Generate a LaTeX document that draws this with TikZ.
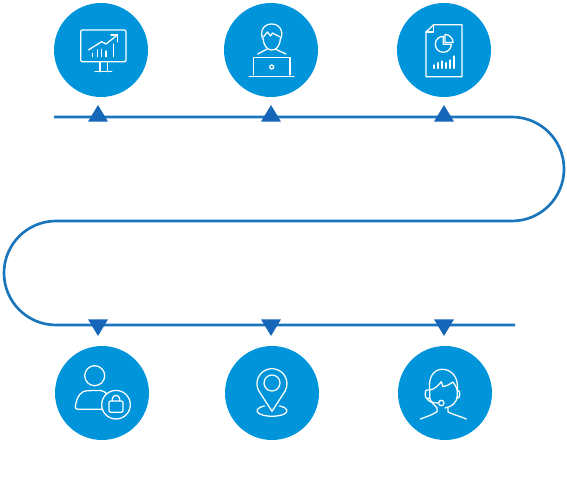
\documentclass[tikz,border=0pt]{standalone}
\usepackage{xcolor}
\usetikzlibrary{shapes.geometric, calc}
\definecolor{discblue}{RGB}{0,149,218}
\definecolor{trackblue}{RGB}{27,117,187}
\definecolor{tipblue}{RGB}{21,101,184}
\tikzset{
  disc/.style={circle, fill=discblue, minimum size=70.5pt, inner sep=0pt},
  tipup/.style={isosceles triangle, isosceles triangle stretches=true,
    shape border rotate=90, fill=tipblue, minimum width=15pt,
    minimum height=12.5pt, inner sep=0pt, anchor=south},
  tipdown/.style={isosceles triangle, isosceles triangle stretches=true,
    shape border rotate=-90, fill=tipblue, minimum width=15pt,
    minimum height=12.5pt, inner sep=0pt, anchor=north},
  track/.style={color=trackblue, line width=2pt},
  glyph/.style={draw=white, line width=0.95pt, line join=round, line cap=round}
}

\begin{document}
\begin{tikzpicture}[x=0.75pt, y=0.75pt]
  \useasboundingbox (0,0) rectangle (567,496);

  \coordinate (trackstart) at (54,379);
  \coordinate (trackend) at (515,171);

  % the winding line
  \draw[track] (trackstart) -- (512,379)
    arc[start angle=90, end angle=-90, radius=52]
    -- (56,275)
    arc[start angle=90, end angle=270, radius=52]
    -- (trackend);

  \node[tipup] (tipa) at (98,374) {};
  \node[tipup] (tipb) at (271,374) {};
  \node[tipup] (tipc) at (444,374) {};
  \node[tipdown] (tipd) at (98,177) {};
  \node[tipdown] (tipe) at (271,177) {};
  \node[tipdown] (tipf) at (444,177) {};

  \node[disc] (chart) at (101,446) {};
  \node[disc] (laptop) at (271,446) {};
  \node[disc] (report) at (444,446) {};
  \node[disc] (account) at (102,103) {};
  \node[disc] (place) at (272,103) {};
  \node[disc] (support) at (445,103) {};

  % monitor with chart
  \begin{scope}[shift={(chart.center)}, glyph]
    \draw[rounded corners=1pt] (-20.3,20) rectangle (25,-11.7);
    \draw (-1,-11.7) -- (-1,-21.7) (6.7,-11.7) -- (6.7,-21.7);
    \draw (-6,-21.7) -- (10.7,-21.7);
    \draw (-8.3,-6.7) -- (-8.3,-3.3) (-3.7,-6.7) -- (-3.7,0) (0.7,-6.7) -- (0.7,0.7)
      (5,-6.7) -- (5,-1) (12.7,-6.7) -- (12.7,6);
    \draw (-12.7,0) -- (0.7,8.3) -- (5,6) -- (16.3,15);
    \draw (10,15) -- (16.3,15) -- (16.3,8.3);
  \end{scope}

  % person at laptop
  \begin{scope}[shift={(laptop.center)}, glyph]
    \draw (-7.7,10.7) .. controls (-11,15) and (-10,26) .. (0.7,26)
      .. controls (11,26) and (12.5,15) .. (9.3,10.7);
    \draw (-7.7,10.7) .. controls (-7,3) and (-3,0) .. (0.7,0)
      .. controls (5,0) and (8.5,3) .. (9.3,10.7);
    \draw (-7.7,13) -- (-3.5,18) -- (-0.5,14) -- (1.5,17) .. controls (4,15) and (7,14.5) .. (9.3,13);
    \draw (-13.3,-4) -- (-4.3,0.7) (4.7,0.7) -- (15,-4);
    \draw (-17.7,-25) -- (-17.7,-7.3) -- (19,-7.3) -- (19,-25);
    \draw (-21.7,-26.7) -- (23,-26.7);
    \draw (0.7,-17) circle[radius=2];
  \end{scope}

  % report sheet
  \begin{scope}[shift={(report.center)}, glyph]
    \draw (-18,18) -- (-10.3,25.3) -- (18,25.3) -- (18,-26.7) -- (-18,-26.7) -- cycle;
    \draw (-18,18) -- (-10.3,18) -- (-10.3,25.3);
    \draw (-0.7,5.7) -- (-0.7,13.7) arc[start angle=90, end angle=360, radius=8] -- cycle;
    \draw (1,7.5) -- (1,15.5) arc[start angle=90, end angle=0, radius=8] -- cycle;
    \foreach \barx/\bartop in {-10/-15, -6/-12.7, -2/-11, 2/-12.7, 6/-10, 10/-6}
      \draw (\barx,-18.3) -- (\barx,\bartop);
  \end{scope}

  % user with lock
  \begin{scope}[shift={(account.center)}, glyph]
    \draw (-7.3,17.3) circle[radius=10];
    \draw (0,-16.3) -- (-24,-16.3) .. controls (-28,-16.3) and (-26.5,-12) .. (-26,-10)
      .. controls (-25,-3) and (-20,2.3) .. (-15,2.3) -- (-2,2.6)
      .. controls (1,2.6) and (3,1) .. (5,-1);
    \draw (14,-11.7) circle[radius=14.3];
    \draw[rounded corners=1pt] (7,-8) rectangle (21,-19.3);
    \draw (10.3,-8) -- (10.3,-6) arc[start angle=180, end angle=0, radius=3.7] -- (17.7,-8);
  \end{scope}

  % location pin
  \begin{scope}[shift={(place.center)}, glyph]
    \draw (0,-18.3) -- (-13,1.8) arc[start angle=210, end angle=-30, radius=15] -- cycle;
    \draw (0,10) circle[radius=8];
    \draw (-7.5,-13) arc[start angle=120, end angle=420, x radius=15, y radius=5.5];
  \end{scope}

  % headset agent
  \begin{scope}[shift={(support.center)}, glyph]
    \draw (-15.3,3) .. controls (-17,16) and (-11,23.7) .. (-2.7,23.7)
      .. controls (6,23.7) and (14,16) .. (12.3,3);
    \draw (-15.3,3) .. controls (-11,3.5) and (-7,7) .. (-3.7,11.3) -- (-2,6.3)
      .. controls (2,7) and (5,9) .. (8,11) .. controls (10,8) and (11.5,6) .. (12.3,3);
    \draw (12.3,3) -- (12.3,-3) .. controls (12,-9) and (7,-14) .. (0,-15);
    \draw (-15.3,-5.3) .. controls (-14,-9) and (-11,-12) .. (-8,-14.7);
    \draw (-15.3,3) -- (-18.3,3) .. controls (-20.3,3) and (-20.3,-5.3) .. (-18.3,-5.3) -- (-15.3,-5.3) -- cycle;
    \draw (12.3,3) .. controls (15.7,3) and (15.7,-5.3) .. (12.3,-5.3);
    \draw (-18,-5.3) .. controls (-17,-9) and (-12,-10) .. (-6.4,-10);
    \draw (-3.7,-10) circle[radius=2.7];
    \draw (-8,-14.7) -- (-8,-18.7) .. controls (-13,-22) and (-19,-24) .. (-24.7,-26);
    \draw (3,-15.3) -- (3,-19) .. controls (9,-22) and (16,-23.5) .. (21.3,-26);
  \end{scope}
\end{tikzpicture}
\end{document}
